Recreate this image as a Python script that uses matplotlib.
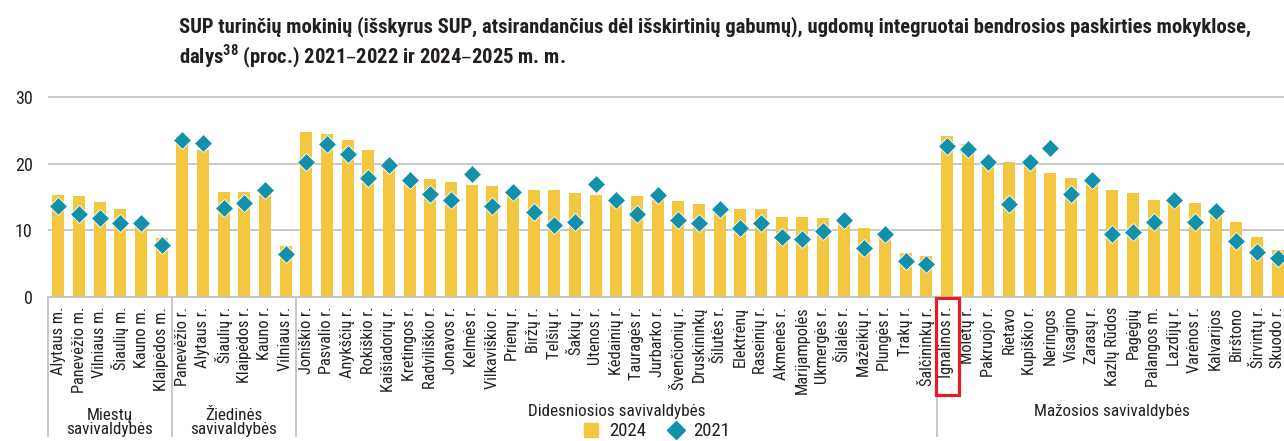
import numpy as np
import matplotlib
matplotlib.use("Agg")
import matplotlib.pyplot as plt
from matplotlib import font_manager as fm
from matplotlib.lines import Line2D
from matplotlib.patches import Rectangle
import matplotlib.transforms as mtransforms

# choose a narrow font if one is installed
_names = {f.name for f in fm.fontManager.ttflist}
_cond = {f.name for f in fm.fontManager.ttflist if f.stretch in ("condensed", "semi-condensed", "extra-condensed", 75, 87.5)}
FONT = None
STRETCH = "normal"
for cand in ["Liberation Sans Narrow", "DejaVu Sans Condensed", "Roboto Condensed",
             "Open Sans Condensed", "Noto Sans Condensed"]:
    if cand in _names:
        FONT = cand
        break
if FONT is None:
    for cand in ["DejaVu Sans", "Open Sans", "Noto Sans", "Roboto"]:
        if cand in _cond:
            FONT = cand
            STRETCH = "condensed"
            break
if FONT is None:
    FONT = "Liberation Sans"
plt.rcParams['font.family'] = [FONT, 'DejaVu Sans']
plt.rcParams['font.stretch'] = STRETCH

municipalities = [
    "Alytaus m.", "Panevėžio m.", "Vilniaus m.", "Šiaulių m.", "Kauno m.", "Klaipėdos m.",
    "Panevėžio r.", "Alytaus r.", "Šiaulių r.", "Klaipėdos r.", "Kauno r.", "Vilniaus r.",
    "Joniškio r.", "Pasvalio r.", "Anykščių r.", "Rokiškio r.", "Kaišiadorių r.", "Kretingos r.",
    "Radviliškio r.", "Jonavos r.", "Kelmės r.", "Vilkaviškio r.", "Prienų r.", "Biržų r.",
    "Telšių r.", "Šakių r.", "Utenos r.", "Kėdainių r.", "Tauragės r.", "Jurbarko r.",
    "Švenčionių r.", "Druskininkų", "Šilutės r.", "Elektrėnų", "Raseinių r.", "Akmenės r.",
    "Marijampolės", "Ukmergės r.", "Šilalės r.", "Mažeikių r.", "Plungės r.", "Trakų r.",
    "Šalčininkų r.",
    "Ignalinos r.", "Molėtų r.", "Pakruojo r.", "Rietavo", "Kupiškio r.", "Neringos",
    "Visagino", "Zarasų r.", "Kazlų Rūdos", "Pagėgių", "Palangos m.", "Lazdijų r.",
    "Varėnos r.", "Kalvarijos", "Birštono", "Širvintų r.", "Skuodo r.",
]

values_2024 = [
    15.3, 15.1, 14.2, 13.2, 11.0, 8.8,
    23.5, 22.0, 15.8, 15.8, 15.3, 7.6,
    24.8, 24.4, 23.6, 22.0, 19.6, 18.0, 17.7, 17.3, 16.8, 16.6, 16.0, 16.1,
    16.1, 15.6, 15.3, 14.8, 15.1, 14.6, 14.4, 13.9, 13.4, 13.2, 13.2, 12.0,
    12.0, 11.8, 11.0, 10.4, 9.2, 6.6, 6.2,
    24.1, 22.9, 20.5, 20.3, 19.8, 18.6, 17.9, 17.0, 16.0, 15.6, 14.6, 14.3,
    14.1, 12.6, 11.3, 9.0, 7.1,
]

values_2021 = [
    13.6, 12.5, 11.8, 11.1, 11.1, 7.8,
    23.6, 23.1, 13.4, 14.1, 16.0, 6.4,
    20.3, 22.9, 21.5, 17.9, 19.8, 17.5, 15.5, 14.6, 18.4, 13.7, 15.8, 12.7,
    10.8, 11.3, 17.0, 14.6, 12.5, 15.3, 11.5, 11.1, 13.2, 10.3, 11.1, 9.0,
    8.7, 9.9, 11.6, 7.3, 9.4, 5.4, 5.0,
    22.7, 22.2, 20.3, 13.9, 20.3, 22.4, 15.5, 17.5, 9.4, 9.7, 11.3, 14.6,
    11.3, 12.9, 8.4, 6.8, 5.8,
]

group_names = ["Miestų\nsavivaldybės", "Žiedinės\nsavivaldybės",
               "Didesniosios savivaldybės", "Mažosios savivaldybės"]
group_sizes = [6, 6, 31, 17]

highlight = "Ignalinos r."

title_line1 = ("SUP turinčių mokinių (išskyrus SUP, atsirandančius dėl išskirtinių gabumų), "
               "ugdomų integruotai bendrosios paskirties mokyklose,")
title_line2 = "dalys$^{\\mathregular{38}}$ (proc.) 2021–2022 ir 2024–2025 m. m."

BAR = "#F3C840"
DIA = "#1390AA"
GRID = "#C4C4C4"
TXT = "#231F20"

W, H = 1284, 441
fig = plt.figure(figsize=(W / 100, H / 100), dpi=100)
ax = fig.add_axes([48 / W, (H - 297) / H, 1240 / W, 201 / H])

x = np.arange(len(municipalities))
ax.bar(x, values_2024, width=0.58, color=BAR, zorder=2)
ax.plot(x, values_2021, linestyle="none", marker="D", markersize=8.8,
        color=DIA, markeredgecolor="white", markeredgewidth=0.6, zorder=3)

ax.set_xlim(-0.5, len(municipalities) - 0.5)
ax.set_ylim(0, 30.15)
ax.set_yticks([0, 10, 20, 30])
ax.yaxis.grid(True, color=GRID, linewidth=1.3, zorder=0)
ax.set_axisbelow(True)
for s in ["top", "right", "left"]:
    ax.spines[s].set_visible(False)
ax.spines["bottom"].set_color(GRID)
ax.spines["bottom"].set_linewidth(1.3)
ax.tick_params(axis="y", length=0, pad=11, labelsize=13, labelcolor=TXT)
ax.set_xticks(x)
ax.set_xticklabels(municipalities, rotation=90, fontsize=11.8, color=TXT)
ax.tick_params(axis="x", length=0, pad=7)

trans = mtransforms.blended_transform_factory(ax.transData, ax.transAxes)
start = 0
seps = [-0.5]
for n in group_sizes:
    start += n
    seps.append(start - 0.5)
for sx in seps[:-1]:
    ax.plot([sx, sx], [0, -0.69], transform=trans, color=GRID, linewidth=1.3,
            clip_on=False)
start = 0
for name, n in zip(group_names, group_sizes):
    cx = start + (n - 1) / 2
    yy = -0.625 if "\n" in name else -0.57
    ax.text(cx, yy, name, transform=trans, ha="center", va="center",
            fontsize=12.3, color=TXT, linespacing=0.95)
    start += n

hi = municipalities.index(highlight)
ax.add_patch(Rectangle((hi - 0.55, -0.49), 1.15, 0.483, transform=trans,
                       fill=False, edgecolor="#E31E24", linewidth=2.3,
                       clip_on=False, zorder=5))

handles = [Line2D([], [], linestyle="none", marker="s", markersize=10, color=BAR),
           Line2D([], [], linestyle="none", marker="D", markersize=9, color=DIA)]
fig.legend(handles, ["2024", "2021"], ncol=2, loc="center",
           bbox_to_anchor=(655 / W, 9.5 / H), frameon=False, fontsize=13.5,
           handletextpad=0.35, columnspacing=1.0, handlelength=1.2,
           labelcolor=TXT, borderpad=0.1)

fig.text(179 / W, 1 - 32 / H, title_line1, ha="left", va="baseline", fontsize=14.9,
         fontweight="bold", color=TXT)
fig.text(179 / W, 1 - 63 / H, title_line2, ha="left", va="baseline", fontsize=14.9,
         fontweight="bold", color=TXT)

fig.savefig("out.png", dpi=100)
